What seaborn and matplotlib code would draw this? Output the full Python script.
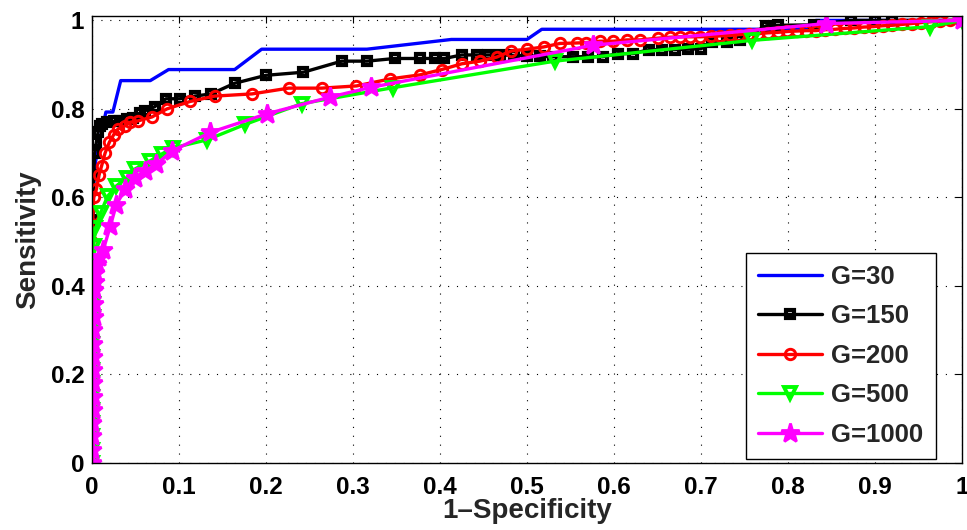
import matplotlib
matplotlib.use("Agg")
import matplotlib.pyplot as plt
import seaborn as sns

# ---------------- data ----------------
labels = ["G=30", "G=150", "G=200", "G=500", "G=1000"]
colors = ["#0000ff", "#000000", "#ff0000", "#00ff00", "#ff00ff"]

fpr_g30 = [0.0, 0.0, 0.001, 0.002, 0.004, 0.008, 0.013, 0.016, 0.024, 0.033,
           0.067, 0.088, 0.164, 0.195, 0.316, 0.413, 0.500, 0.517, 0.829, 0.832, 1.0]
tpr_g30 = [0.0, 0.35, 0.55, 0.63, 0.68, 0.72, 0.766, 0.793, 0.793, 0.864,
           0.864, 0.889, 0.889, 0.935, 0.935, 0.957, 0.957, 0.980, 0.980, 1.0, 1.0]

fpr_g150 = [0.0, 0.0, 0.0005, 0.001, 0.002, 0.003, 0.005, 0.007, 0.009, 0.012, 0.017,
            0.025, 0.032, 0.040, 0.047, 0.055, 0.061, 0.072, 0.085, 0.101, 0.118,
            0.137, 0.164, 0.200, 0.243, 0.287, 0.316, 0.348, 0.377, 0.394, 0.405,
            0.425, 0.442, 0.455, 0.469, 0.485, 0.500, 0.515, 0.530, 0.553, 0.570,
            0.587, 0.605, 0.622, 0.640, 0.655, 0.670, 0.685, 0.700, 0.713, 0.730,
            0.745, 0.775, 0.788, 0.830, 0.872, 0.900, 0.920, 1.0]
tpr_g150 = [0.0, 0.30, 0.45, 0.55, 0.65, 0.70, 0.725, 0.747, 0.762, 0.765, 0.770,
            0.772, 0.773, 0.777, 0.780, 0.790, 0.796, 0.805, 0.823, 0.823, 0.829,
            0.834, 0.858, 0.876, 0.883, 0.908, 0.908, 0.914, 0.914, 0.914, 0.914,
            0.922, 0.922, 0.922, 0.922, 0.921, 0.920, 0.919, 0.918, 0.918, 0.918,
            0.918, 0.925, 0.925, 0.934, 0.934, 0.934, 0.935, 0.936, 0.952, 0.952,
            0.955, 0.988, 0.989, 0.990, 1.0, 1.0, 1.0, 1.0]

fpr_g200 = [0.0, 0.0, 0.0, 0.0005, 0.001, 0.002, 0.005, 0.008, 0.011, 0.015, 0.020,
            0.025, 0.030, 0.038, 0.044, 0.053, 0.069, 0.086, 0.113, 0.141, 0.184,
            0.226, 0.264, 0.304, 0.343, 0.377, 0.402, 0.425, 0.446, 0.465, 0.482,
            0.500, 0.519, 0.538, 0.557, 0.568, 0.584, 0.599, 0.615, 0.630, 0.651,
            0.664, 0.676, 0.687, 0.699, 0.711, 0.722, 0.733, 0.744, 0.755, 0.766,
            0.777, 0.788, 0.799, 0.810, 0.821, 0.832, 0.843, 0.854, 0.865, 0.876,
            0.887, 0.898, 0.909, 0.920, 0.931, 0.942, 0.953, 0.964, 0.975, 0.986, 1.0]
tpr_g200 = [0.0, 0.30, 0.39, 0.50, 0.56, 0.60, 0.618, 0.650, 0.671, 0.700, 0.725,
            0.742, 0.755, 0.762, 0.770, 0.773, 0.782, 0.800, 0.817, 0.829, 0.834,
            0.847, 0.847, 0.852, 0.868, 0.877, 0.889, 0.902, 0.908, 0.917, 0.931,
            0.935, 0.940, 0.948, 0.949, 0.950, 0.953, 0.953, 0.956, 0.956, 0.960,
            0.962, 0.963, 0.963, 0.963, 0.964, 0.965, 0.966, 0.968, 0.969, 0.970,
            0.972, 0.973, 0.975, 0.976, 0.977, 0.977, 0.979, 0.980, 0.982, 0.983,
            0.985, 0.986, 0.988, 0.989, 0.991, 0.993, 0.995, 0.997, 0.998, 1.0, 1.0]

fpr_g500 = [0.0, 0.0, 0.0, 0.0, 0.0, 0.0, 0.0, 0.0005, 0.0005, 0.0005, 0.0005,
            0.001, 0.001, 0.001, 0.001, 0.002, 0.002, 0.004, 0.010, 0.018, 0.028,
            0.040, 0.049, 0.067, 0.080, 0.093, 0.132, 0.176, 0.241, 0.346, 0.532,
            0.759, 0.963, 1.0]
tpr_g500 = [0.0, 0.03, 0.06, 0.09, 0.12, 0.15, 0.18, 0.21, 0.24, 0.27, 0.30,
            0.33, 0.36, 0.39, 0.414, 0.45, 0.49, 0.53, 0.566, 0.603, 0.626,
            0.645, 0.664, 0.683, 0.698, 0.712, 0.730, 0.765, 0.812, 0.848, 0.908,
            0.955, 0.986, 1.0]

fpr_g1000 = [0.0, 0.0005, 0.0005, 0.0005, 0.001, 0.001, 0.001, 0.001, 0.0015, 0.0015,
             0.0015, 0.002, 0.002, 0.002, 0.003, 0.004, 0.006, 0.008, 0.013, 0.021,
             0.028, 0.038, 0.049, 0.061, 0.074, 0.092, 0.136, 0.201, 0.274, 0.321,
             0.576, 0.844, 1.0]
tpr_g1000 = [0.0, 0.03, 0.06, 0.09, 0.12, 0.15, 0.18, 0.21, 0.24, 0.27,
             0.30, 0.33, 0.36, 0.39, 0.41, 0.43, 0.45, 0.465, 0.482, 0.535,
             0.584, 0.618, 0.645, 0.660, 0.675, 0.705, 0.747, 0.789, 0.827, 0.849,
             0.944, 0.993, 1.0]

x_ticks = [0, 0.1, 0.2, 0.3, 0.4, 0.5, 0.6, 0.7, 0.8, 0.9, 1.0]
x_tick_labels = ["0", "0.1", "0.2", "0.3", "0.4", "0.5", "0.6", "0.7", "0.8", "0.9", "1"]
y_ticks = [0, 0.2, 0.4, 0.6, 0.8, 1.0]
y_tick_labels = ["0", "0.2", "0.4", "0.6", "0.8", "1"]

# ---------------- style ----------------
sns.set_style("white")
plt.rcParams['font.family'] = ['Liberation Sans', 'DejaVu Sans']
plt.rcParams['font.weight'] = 'bold'
plt.rcParams['axes.labelweight'] = 'bold'

fig = plt.figure(figsize=(9.67, 5.30), dpi=100)
W, H = 967, 530
ax = fig.add_axes([92 / W, 1 - 463 / H, (962 - 92) / W, (463 - 16) / H])

series = [
    (fpr_g30, tpr_g30, "", 0, 0),
    (fpr_g150, tpr_g150, "s", 6.0, 3.0),
    (fpr_g200, tpr_g200, "o", 7.5, 2.1),
    (fpr_g500, tpr_g500, "v", 9.0, 2.8),
    (fpr_g1000, tpr_g1000, "*", 14.0, 2.0),
]

for (fx, ty, mk, ms, mew), lab, col in zip(series, labels, colors):
    kw = dict(x=fx, y=ty, ax=ax, sort=False, estimator=None, color=col,
              linewidth=2.4, label=lab)
    if mk:
        kw.update(marker=mk, markersize=ms, markeredgewidth=mew,
                  markeredgecolor=col,
                  markerfacecolor=(col if mk == "*" else "none"))
    sns.lineplot(**kw)

ax.set_xlim(0, 1)
ax.set_ylim(0, 1.01)
ax.set_xticks(x_ticks)
ax.set_xticklabels(x_tick_labels)
ax.set_yticks(y_ticks)
ax.set_yticklabels(y_tick_labels)
ax.tick_params(direction='in', top=True, right=True, length=5, width=0.8,
               labelsize=17.5, colors='black')
ax.tick_params(axis='x', pad=9)
ax.tick_params(axis='y', pad=5.5)
for t in ax.get_xticklabels() + ax.get_yticklabels():
    t.set_fontweight('bold')

ax.grid(True, color='black', linestyle=(0, (1, 7)), linewidth=0.8)
for sp in ax.spines.values():
    sp.set_color('black')
    sp.set_linewidth(1.0)
    sp.set_visible(True)

ax.set_xlabel("1\u2013Specificity", fontsize=20, fontweight='bold', labelpad=0)
ax.set_ylabel("Sensitivity", fontsize=20, fontweight='bold', labelpad=6.5)

leg = ax.legend(loc='lower right', bbox_to_anchor=(0.970, 0.009), borderaxespad=0,
                fancybox=False, framealpha=1, edgecolor='black',
                prop={'weight': 'bold', 'size': 18.5}, handlelength=2.5,
                handletextpad=0.35, labelspacing=0.6, borderpad=0.48)
leg.get_frame().set_linewidth(1.0)

fig.savefig("out.png", dpi=100)
